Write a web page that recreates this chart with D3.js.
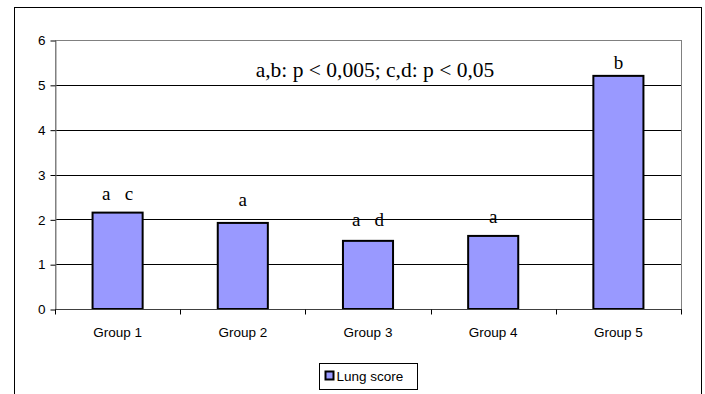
<!DOCTYPE html>
<html><head><meta charset="utf-8">
<script src="https://cdn.jsdelivr.net/npm/d3@7"></script>
<style>body{margin:0;background:#fff}svg{display:block}</style>
</head><body>
<svg id="c" width="705" height="394"></svg>
<script>
const categories = ["Group 1","Group 2","Group 3","Group 4","Group 5"];
const lungScore = [2.15, 1.92, 1.52, 1.63, 5.20];
const sigLabels = ["a   c","a","a   d","a","b"];
const sigLevel = [2.43, 2.30, 1.85, 1.92, 5.35];
const yTicks = [0,1,2,3,4,5,6];
const seriesName = "Lung score";
const note = "a,b: p < 0,005; c,d: p < 0,05";

const svg = d3.select("#c");
const L = 55, R = 681, T = 40, B = 309;
const x = d3.scaleBand().domain(categories).range([L, R]).paddingInner(0.6).paddingOuter(0.3);
const xb = d3.scaleBand().domain(categories).range([L, R]);
const y = d3.scaleLinear().domain([0, 6]).range([B, T]);
const sans = "Liberation Sans, Arial, sans-serif";
const serif = "Liberation Serif, Times New Roman, serif";

// outer frame
svg.append("rect").attr("x",14.5).attr("y",7.5).attr("width",687).attr("height",400)
  .attr("fill","#fff").attr("stroke","#000").attr("stroke-width",1);

// gridlines
svg.append("g").selectAll("line").data(yTicks.filter(d=>d>0&&d<6)).join("line")
  .attr("x1",L).attr("x2",R).attr("y1",d=>Math.round(y(d))+0.5).attr("y2",d=>Math.round(y(d))+0.5)
  .attr("stroke","#000").attr("stroke-width",1);

// plot border
svg.append("rect").attr("x",L+0.5).attr("y",T+0.5).attr("width",R-L).attr("height",B-T)
  .attr("fill","none").attr("stroke","#808080").attr("stroke-width",1);

// y axis
const ya = d3.axisLeft(y).tickValues(yTicks).tickFormat(d3.format("d")).tickSize(5).tickSizeOuter(0).tickPadding(5);
const gy = svg.append("g").attr("transform",`translate(${L+0.5},0.5)`).call(ya);
gy.select(".domain").attr("stroke","#808080");
gy.selectAll(".tick line").attr("stroke","#000");
gy.selectAll("text").attr("font-family",sans).attr("font-size",13.5).attr("fill","#000");

// bars
svg.append("g").selectAll("rect").data(lungScore).join("rect")
  .attr("x",(d,i)=>x(categories[i])).attr("width",x.bandwidth())
  .attr("y",d=>y(d)).attr("height",d=>y(0)-y(d))
  .attr("fill","#9999FF").attr("stroke","#000").attr("stroke-width",2);

// x axis
const gx = svg.append("g").attr("transform",`translate(0,${B+0.5})`);
gx.append("line").attr("x1",L).attr("x2",R+1).attr("stroke","#404040");
gx.selectAll("line.tk").data(d3.range(categories.length+1)).join("line").attr("class","tk")
  .attr("x1",i=>Math.round(L+xb.step()*i)+0.5).attr("x2",i=>Math.round(L+xb.step()*i)+0.5)
  .attr("y1",0).attr("y2",5).attr("stroke","#000");
gx.selectAll("text").data(categories).join("text")
  .attr("x",d=>xb(d)+xb.bandwidth()/2).attr("y",27).attr("text-anchor","middle")
  .attr("font-family",sans).attr("font-size",13.5).text(d=>d);

// significance letters
svg.append("g").selectAll("text").data(sigLabels).join("text")
  .attr("x",(d,i)=>x(categories[i])+x.bandwidth()/2).attr("y",(d,i)=>y(sigLevel[i]))
  .attr("text-anchor","middle").style("white-space","pre")
  .attr("font-family",serif).attr("font-size",19).text(d=>d);

// annotation
svg.append("text").attr("x",375).attr("y",y(5.2)+1).attr("text-anchor","middle")
  .attr("font-family",serif).attr("font-size",21.5).text(note);

// legend
const lg = svg.append("g").attr("transform","translate(319.5,363.5)");
lg.append("rect").attr("width",98).attr("height",26).attr("fill","#fff").attr("stroke","#000");
lg.append("rect").attr("x",6).attr("y",8).attr("width",8).attr("height",8).attr("fill","#9999FF").attr("stroke","#000").attr("stroke-width",2);
lg.append("text").attr("x",17).attr("y",17.5).attr("font-family",sans).attr("font-size",13.5).text(seriesName);
</script>
</body></html>
